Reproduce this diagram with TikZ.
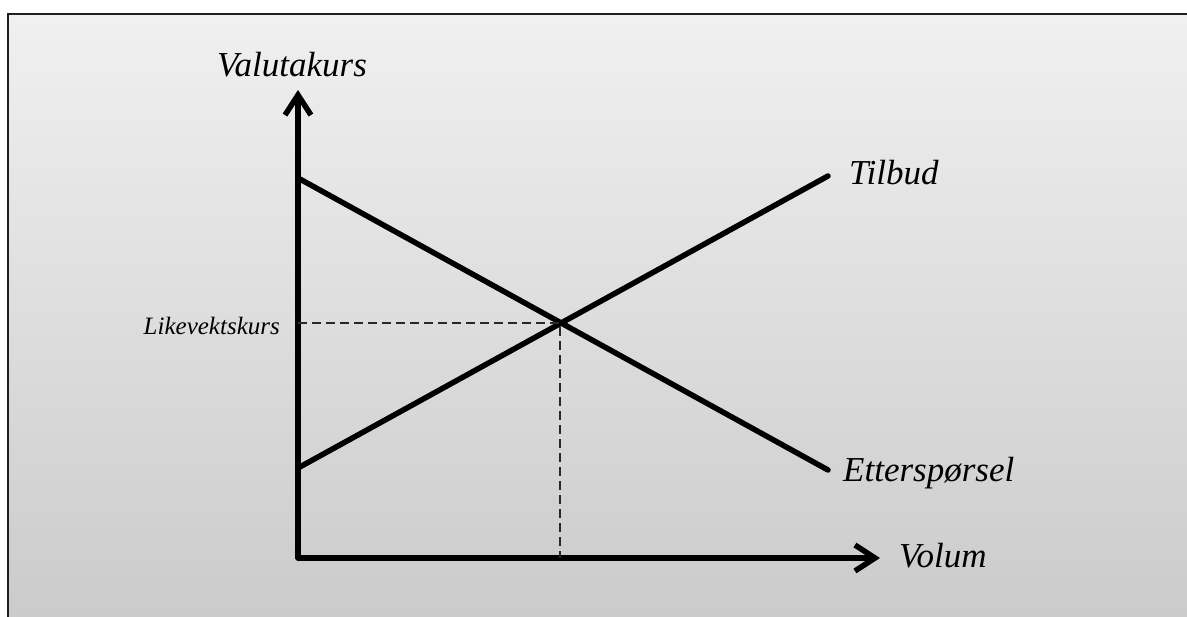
\documentclass[tikz,border=0pt]{standalone}
\usepackage{fontspec}
\setmainfont{Liberation Serif}
\usetikzlibrary{arrows.meta}
\definecolor{bgtop}{RGB}{240,240,240}
\definecolor{bgbot}{RGB}{203,203,203}
\definecolor{framec}{RGB}{30,30,30}
\definecolor{dashc}{RGB}{40,40,40}
\begin{document}
\begin{tikzpicture}[x=1pt,y=-1pt,
  axisline/.style={line width=5.5pt, line cap=round, line join=round,
    {Straight Barb[length=20pt,width=26pt,line width=5.5pt]}-{Straight Barb[length=20pt,width=26pt,line width=5.5pt]}},
  curve/.style={line width=5.5pt, line cap=round},
  guide/.style={line width=2.4pt, dashc, dash pattern=on 9pt off 5pt},
  biglabel/.style={font=\fontsize{35}{40}\selectfont\itshape, inner sep=0pt},
  smalllabel/.style={font=\fontsize{25}{30}\selectfont\itshape, inner sep=0pt}]
\useasboundingbox (0,0) rectangle (1187,617);
\fill[white] (0,0) rectangle (1187,617);
\shade[top color=bgtop, bottom color=bgbot] (8,14) rectangle (1187,617);
\draw[line width=2.5pt, framec] (8,617) -- (8,14) -- (1187,14);

\coordinate (O) at (298,558);
\coordinate (ytop) at (298,90);
\coordinate (xend) at (880,558);
\coordinate (D1) at (298,178);
\coordinate (D2) at (828,470);
\coordinate (S1) at (298,468);
\coordinate (S2) at (828,176);
\coordinate (E) at (560,323);
\coordinate (Ey) at (298,323);
\coordinate (Ex) at (560,558);

\draw[axisline] (ytop) -- (O) -- (xend);
\draw[curve] (D1) -- (D2);
\draw[curve] (S1) -- (S2);
\draw[guide] (Ey) -- (E) -- (Ex);

\node[biglabel, anchor=base] (yl) at (292,77) {Valutakurs};
\node[biglabel, anchor=base west] (tl) at (849,185) {Tilbud};
\node[biglabel, anchor=base west] (el) at (843,482) {Etterspørsel};
\node[biglabel, anchor=base west] (xl) at (899,568) {Volum};
\node[smalllabel, anchor=base east] (ll) at (280,335) {Likevektskurs};
\end{tikzpicture}
\end{document}
